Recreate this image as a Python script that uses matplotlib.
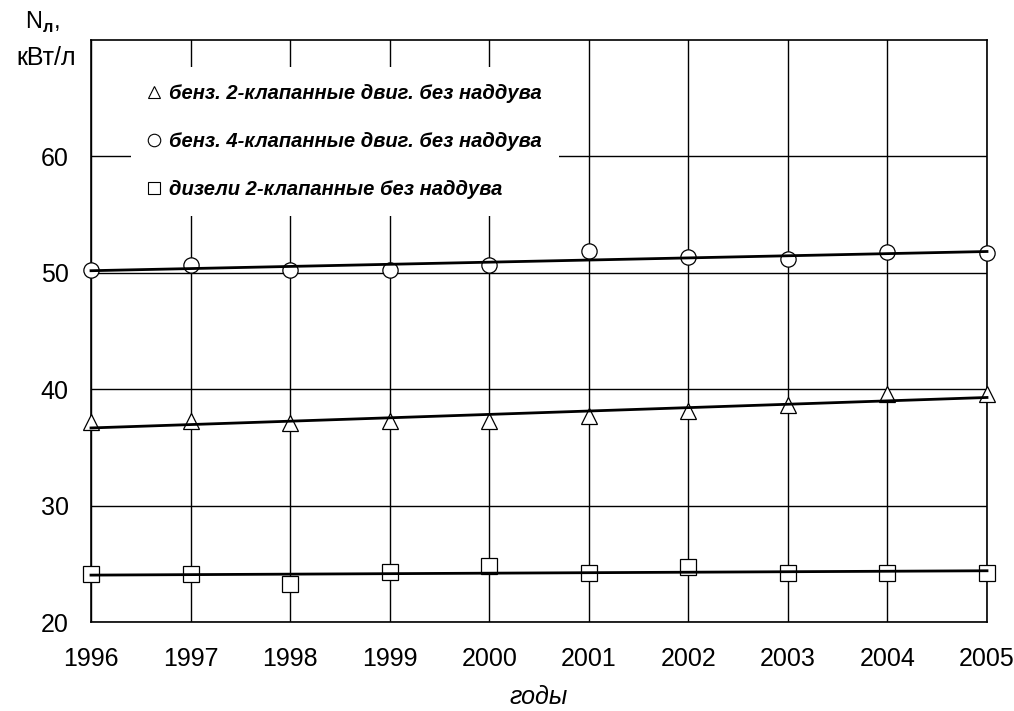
import matplotlib
matplotlib.use('Agg')
import matplotlib.pyplot as plt
from matplotlib.lines import Line2D
import numpy as np

# ---------------- data ----------------
years = [1996, 1997, 1998, 1999, 2000, 2001, 2002, 2003, 2004, 2005]
petrol_2v = [37.2, 37.3, 37.1, 37.3, 37.3, 37.7, 38.1, 38.6, 39.6, 39.6]
petrol_4v = [50.2, 50.7, 50.25, 50.25, 50.7, 51.9, 51.4, 51.2, 51.75, 51.7]
diesel_2v = [24.1, 24.1, 23.3, 24.3, 24.8, 24.2, 24.75, 24.2, 24.2, 24.2]

labels = ['бенз. 2-клапанные двиг. без наддува',
          'бенз. 4-клапанные двиг. без наддува',
          'дизели 2-клапанные без наддува']
markers = ['^', 'o', 's']
yticks = [20, 30, 40, 50, 60]

plt.rcParams['font.family'] = ['Liberation Sans', 'DejaVu Sans']
plt.rcParams['mathtext.fontset'] = 'custom'
plt.rcParams['mathtext.rm'] = 'Liberation Sans'
plt.rcParams['mathtext.bf'] = 'Liberation Sans:bold'

fig = plt.figure(figsize=(10.14, 7.11), dpi=100)
ax = fig.add_axes([91 / 1014, 1 - 622 / 711, (987 - 91) / 1014, (622 - 40) / 711])

x = np.array(years)
handles = []
for series, m in zip([petrol_2v, petrol_4v, diesel_2v], markers):
    ax.plot(x, series, linestyle='none', marker=m, markersize=11,
            markerfacecolor='white', markeredgecolor='black',
            markeredgewidth=0.9, zorder=3, clip_on=False)
    # linear trend through the points
    k, b = np.polyfit(x, series, 1)
    ax.plot(x, k * x + b, color='black', lw=2.0, zorder=4, clip_on=False)
    handles.append(Line2D([], [], linestyle='none', marker=m, markersize=9,
                          markerfacecolor='white', markeredgecolor='black',
                          markeredgewidth=0.8))

ax.set_xlim(1996, 2005)
ax.set_ylim(20, 70)
ax.set_xticks(years)
ax.set_yticks(yticks)
ax.grid(True, color='black', lw=1.0)
ax.tick_params(length=0, labelsize=18)
ax.tick_params(axis='x', pad=18)
ax.tick_params(axis='y', pad=16)
for s in ax.spines.values():
    s.set_linewidth(1.2)

ax.set_xlabel('годы', fontsize=18, style='italic', labelpad=10)

leg = ax.legend(handles, labels, loc='upper left',
                bbox_to_anchor=(131 / 1014, 1 - 67 / 711),
                bbox_transform=fig.transFigure,
                prop={'size': 14.5, 'style': 'italic', 'weight': 'bold'},
                frameon=True, fancybox=False, handlelength=0.6,
                handletextpad=0.45, labelspacing=1.43, borderpad=0.85,
                borderaxespad=0)
leg.get_frame().set_facecolor('white')
leg.get_frame().set_edgecolor('none')
leg.get_frame().set_alpha(1)
leg.set_zorder(5)

fig.text(60 / 1014, 1 - 22 / 711, r'N$_{\mathbf{л}}$,', fontsize=17,
         ha='right', va='center')
fig.text(76 / 1014, 1 - 58 / 711, 'кВт/л', fontsize=18, ha='right', va='center')

fig.savefig('out.png', dpi=100)
